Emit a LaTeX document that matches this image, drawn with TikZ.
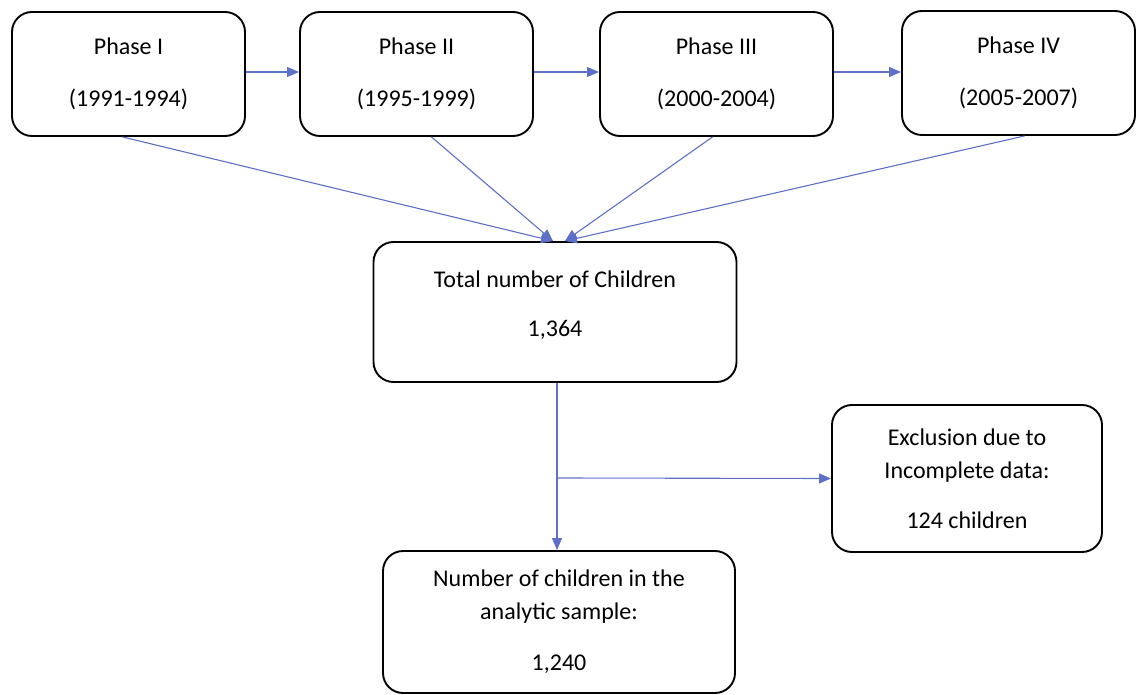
\documentclass[tikz,border=0pt]{standalone}
\usepackage{fontspec}
\setmainfont{Carlito}
\usetikzlibrary{arrows.meta,calc}
\definecolor{arrblue}{RGB}{92,112,200}
\tikzset{
  box/.style={draw=black, line width=1.9pt, rounded corners=20pt, align=center,
    font=\fontsize{24}{33}\selectfont, inner sep=0pt},
  phasebox/.style={box, minimum width=233pt, minimum height=124pt},
  conn/.style={draw=arrblue, line width=1.1pt, -{Triangle[length=12pt,width=10pt]}},
  line/.style={draw=arrblue, line width=1.1pt}
}
\begin{document}
\begin{tikzpicture}[x=1pt,y=-1pt]
\useasboundingbox (0,0) rectangle (1146,695);
\node[phasebox] (p1) at (128.5,74) {Phase I\\[19pt](1991-1994)};
\node[phasebox] (p2) at (416.5,74) {Phase II\\[19pt](1995-1999)};
\node[phasebox] (p3) at (716.5,74) {Phase III\\[19pt](2000-2004)};
\node[phasebox] (p4) at (1018.5,73) {Phase IV\\[19pt](2005-2007)};
\node[box, minimum width=363pt, minimum height=140pt] (tot) at (555,312)
  {Total number of Children\\[16pt]1,364\\[-17pt]};
\node[box, minimum width=270pt, minimum height=147pt] (ex) at (967,478.5)
  {Exclusion due to\\Incomplete data:\\[17pt]124 children};
\node[box, minimum width=352pt, minimum height=142pt] (nb) at (559,622)
  {Number of children in the\\analytic sample:\\[18pt]1,240};
\draw[conn] (p1.east |- 0,72) -- (p2.west |- 0,72);
\draw[conn] (p2.east |- 0,72) -- (p3.west |- 0,72);
\draw[conn] (p3.east |- 0,72) -- (p4.west |- 0,72);
\coordinate (tl) at ($(tot.north)+(-2,0)$);
\coordinate (tr) at ($(tot.north)+(10,0)$);
\draw[conn] ($(p1.south)+(-6,0)$) -- (tl);
\draw[conn] ($(p2.south)+(15,0)$) -- (tl);
\draw[conn] ($(p3.south)+(-4,0)$) -- (tr);
\draw[conn] ($(p4.south)+(6,0)$) -- (tr);
\coordinate (j) at (557,478);
\draw[conn] (tot.south -| j) -- (nb.north -| j);
\draw[conn] (j) -- (ex.west);
\end{tikzpicture}
\end{document}
